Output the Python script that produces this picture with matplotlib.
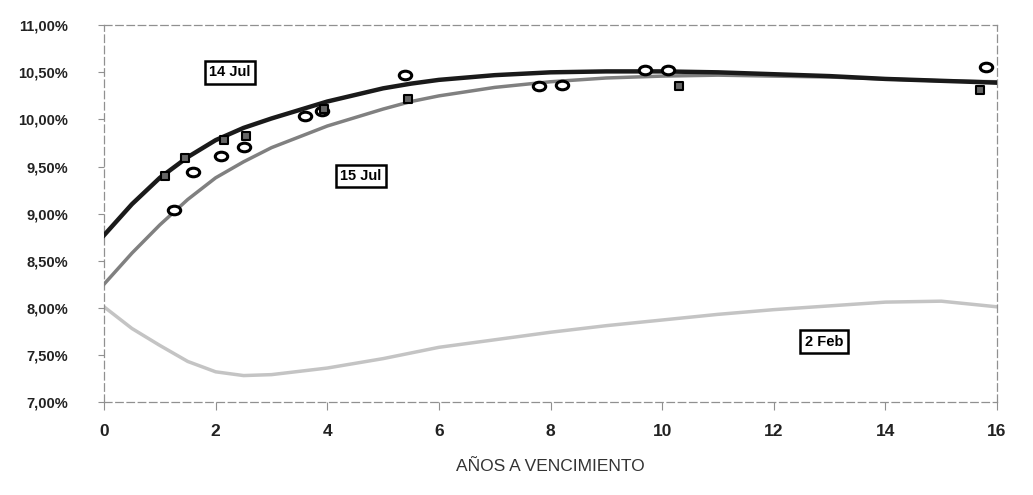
import matplotlib
matplotlib.use("Agg")
import matplotlib.pyplot as plt
from matplotlib.ticker import FuncFormatter
from matplotlib.path import Path
from matplotlib.transforms import Affine2D

plt.rcParams['font.family'] = ['Liberation Sans', 'DejaVu Sans']

# Curves (maturity years, yield %)
x_curve = [0, 0.5, 1, 1.5, 2, 2.5, 3, 4, 5, 5.5, 6, 7, 8, 9, 10, 11, 12, 13, 14, 15, 16]
jul14 = [8.77, 9.10, 9.38, 9.60, 9.78, 9.91, 10.01, 10.19, 10.33, 10.38, 10.42, 10.47, 10.50, 10.51, 10.51, 10.50, 10.48, 10.46, 10.43, 10.41, 10.39]
jul15 = [8.25, 8.58, 8.88, 9.15, 9.38, 9.55, 9.70, 9.93, 10.11, 10.19, 10.25, 10.34, 10.40, 10.44, 10.46, 10.47, 10.46, 10.45, 10.43, 10.41, 10.40]
feb2 = [8.01, 7.78, 7.60, 7.43, 7.32, 7.28, 7.29, 7.36, 7.46, 7.52, 7.58, 7.66, 7.74, 7.81, 7.87, 7.93, 7.98, 8.02, 8.06, 8.07, 8.01]

# Observed bonds
circ_x = [1.25, 1.6, 2.1, 2.5, 3.6, 3.9, 5.4, 7.8, 8.2, 9.7, 10.1, 15.8]
circ_y = [9.04, 9.44, 9.61, 9.71, 10.04, 10.09, 10.47, 10.36, 10.37, 10.52, 10.52, 10.56]
sq_x = [1.1, 1.45, 2.15, 2.55, 3.95, 5.45, 10.3, 15.7]
sq_y = [9.40, 9.59, 9.78, 9.82, 10.11, 10.22, 10.36, 10.31]

labels = ["14 Jul", "15 Jul", "2 Feb"]
label_x = [2.25, 4.6, 12.9]
label_y = [10.50, 9.40, 7.64]

ellipse = Path.unit_circle().transformed(Affine2D().scale(1.45, 1.0))

fig = plt.figure(figsize=(10.33, 4.95), dpi=100)
ax = fig.add_axes([0.1007, 0.188, 0.8645, 0.761])

ax.plot(x_curve, feb2, color='#c4c4c4', lw=2.5, zorder=2, solid_joinstyle='round')
ax.plot(x_curve, jul15, color='#808080', lw=2.5, zorder=3, solid_joinstyle='round')
ax.plot(x_curve, jul14, color='#1a1a1a', lw=3.2, zorder=4, solid_joinstyle='round')

ax.scatter(circ_x, circ_y, s=80, marker=ellipse, facecolor='white', edgecolor='black', linewidth=2.2, zorder=5)
ax.scatter(sq_x, sq_y, s=40, marker='s', facecolor='#666666', edgecolor='black', linewidth=1.5, zorder=5)

for t, lx, ly in zip(labels, label_x, label_y):
    ax.text(lx, ly, t, fontsize=10.5, fontweight='bold', ha='center', va='center', zorder=6,
            bbox=dict(boxstyle='square,pad=0.3', facecolor='white', edgecolor='black', linewidth=1.8))

ax.set_xlim(0, 16)
ax.set_ylim(7.0, 11.0)
ax.set_xticks(range(0, 17, 2))
ax.set_yticks([7.0, 7.5, 8.0, 8.5, 9.0, 9.5, 10.0, 10.5, 11.0])
ax.yaxis.set_major_formatter(FuncFormatter(lambda v, p: f"{v:.2f}%".replace('.', ',')))

for s in ax.spines.values():
    s.set_linestyle((0, (6, 3)))
    s.set_color('#909090')
    s.set_linewidth(0.9)

ax.tick_params(axis='y', labelsize=10.5, length=4, color='#909090', pad=22, labelcolor='#222222')
ax.tick_params(axis='x', labelsize=12.5, length=6, color='#909090', pad=10, labelcolor='#222222')
for lab in ax.get_xticklabels() + ax.get_yticklabels():
    lab.set_fontweight('bold')

ax.set_xlabel("AÑOS A VENCIMIENTO", fontsize=12.5, labelpad=14, color='#333333')

fig.savefig("out.png", dpi=100)
